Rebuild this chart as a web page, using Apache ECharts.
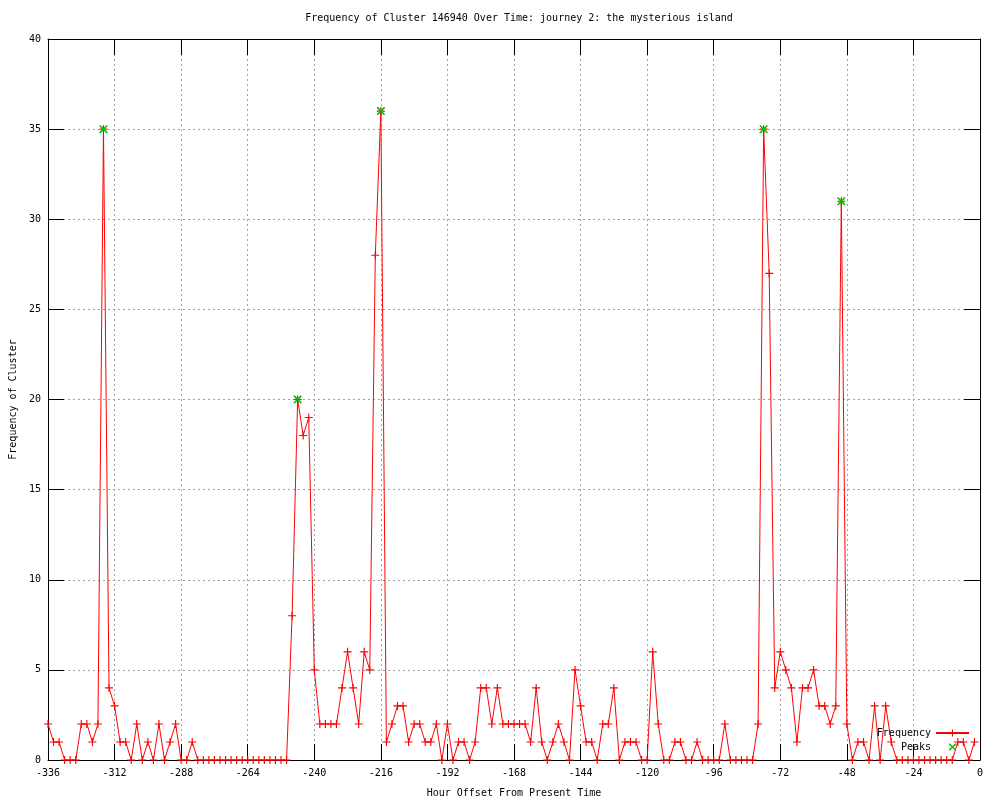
<!DOCTYPE html>
<html>
<head>
<meta charset="utf-8">
<script src="https://cdn.jsdelivr.net/npm/echarts@6/dist/echarts.min.js"></script>
<style>
html,body{margin:0;padding:0;background:#fff;}
#c{width:1000px;height:800px;}
</style>
</head>
<body>
<div id="c"></div>
<script>
var titleText = 'Frequency of Cluster 146940 Over Time: journey 2: the mysterious island';
var xAxisName = 'Hour Offset From Present Time';
var yAxisName = 'Frequency of Cluster';

var hours = [
-336,-334,-332,-330,-328,-326,-324,-322,-320,-318,-316,-314,-312,-310,-308,-306,-304,-302,-300,-298,
-296,-294,-292,-290,-288,-286,-284,-282,-280,-278,-276,-274,-272,-270,-268,-266,-264,-262,-260,-258,
-256,-254,-252,-250,-248,-246,-244,-242,-240,-238,-236,-234,-232,-230,-228,-226,-224,-222,-220,-218,
-216,-214,-212,-210,-208,-206,-204,-202,-200,-198,-196,-194,-192,-190,-188,-186,-184,-182,-180,-178,
-176,-174,-172,-170,-168,-166,-164,-162,-160,-158,-156,-154,-152,-150,-148,-146,-144,-142,-140,-138,
-136,-134,-132,-130,-128,-126,-124,-122,-120,-118,-116,-114,-112,-110,-108,-106,-104,-102,-100,-98,
-96,-94,-92,-90,-88,-86,-84,-82,-80,-78,-76,-74,-72,-70,-68,-66,-64,-62,-60,-58,
-56,-54,-52,-50,-48,-46,-44,-42,-40,-38,-36,-34,-32,-30,-28,-26,-24,-22,-20,-18,
-16,-14,-12,-10,-8,-6,-4,-2
];

var frequency = [
2,1,1,0,0,0,2,2,1,2,35,4,3,1,1,0,2,0,1,0,
2,0,1,2,0,0,1,0,0,0,0,0,0,0,0,0,0,0,0,0,
0,0,0,0,8,20,18,19,5,2,2,2,2,4,6,4,2,6,5,28,
36,1,2,3,3,1,2,2,1,1,2,0,2,0,1,1,0,1,4,4,
2,4,2,2,2,2,2,1,4,1,0,1,2,1,0,5,3,1,1,0,
2,2,4,0,1,1,1,0,0,6,2,0,0,1,1,0,0,1,0,0,
0,0,2,0,0,0,0,0,2,35,27,4,6,5,4,1,4,4,5,3,
3,2,3,31,2,0,1,1,0,3,0,3,1,0,0,0,0,0,0,0,
0,0,0,0,1,1,0,1
];

var peakHours = [-316, -246, -216, -78, -50];
var peakValues = [35, 20, 36, 35, 31];

var xTicks = {min: -336, max: 0, interval: 24};
var yTicks = {min: 0, max: 40, interval: 5};

var freqData = hours.map(function (h, i) { return [h, frequency[i]]; });
var peakData = peakHours.map(function (h, i) { return [h, peakValues[i]]; });

var FONT = 'DejaVu Sans Mono';
var plusPath = 'path://M0,3h7v1h-7z M3,0h1v7h-1z';
var xPath = 'path://M0,0 L1,0 L7,6 L7,7 L6,7 L0,1 Z M6,0 L7,0 L7,1 L1,7 L0,7 L0,6 Z';

var gridLine = {show: true, lineStyle: {color: '#a0a0a0', width: 1, type: [2, 3]}};

var chart = echarts.init(document.getElementById('c'), null, {renderer: 'canvas'});
chart.setOption({
  animation: false,
  backgroundColor: '#ffffff',
  title: {
    text: titleText,
    left: 514, top: 8, textAlign: 'center',
    textStyle: {fontFamily: FONT, fontSize: 10, fontWeight: 'normal', color: '#000'}
  },
  legend: {
    orient: 'vertical',
    align: 'right',
    right: 30, top: 728, padding: 0,
    itemWidth: 33, itemHeight: 9, itemGap: 4,
    textStyle: {fontFamily: FONT, fontSize: 10, color: '#000'},
    data: ['Frequency', 'Peaks']
  },
  grid: {left: 48, right: 20, top: 39, bottom: 40, show: false, containLabel: false, outerBoundsMode: 'none'},
  xAxis: [{
    type: 'value', position: 'bottom',
    min: xTicks.min, max: xTicks.max, interval: xTicks.interval,
    name: xAxisName, nameLocation: 'middle', nameGap: 28,
    nameTextStyle: {fontFamily: FONT, fontSize: 10, color: '#000'},
    axisLine: {show: true, onZero: false, lineStyle: {color: '#000', width: 1}},
    axisTick: {show: true, inside: true, length: 16, lineStyle: {color: '#000'}},
    axisLabel: {fontFamily: FONT, fontSize: 10, color: '#000', margin: 8},
    splitLine: gridLine
  }, {
    type: 'value', position: 'top',
    min: xTicks.min, max: xTicks.max, interval: xTicks.interval,
    axisLine: {show: true, onZero: false, lineStyle: {color: '#000', width: 1}},
    axisTick: {show: true, inside: true, length: 16, lineStyle: {color: '#000'}},
    axisLabel: {show: false},
    splitLine: {show: false}
  }],
  yAxis: [{
    type: 'value', position: 'left',
    min: yTicks.min, max: yTicks.max, interval: yTicks.interval,
    name: yAxisName, nameLocation: 'middle', nameGap: 30, nameRotate: 90,
    nameTextStyle: {fontFamily: FONT, fontSize: 10, color: '#000'},
    axisLine: {show: true, onZero: false, lineStyle: {color: '#000', width: 1}},
    axisTick: {show: true, inside: true, length: 16, lineStyle: {color: '#000'}},
    axisLabel: {fontFamily: FONT, fontSize: 10, color: '#000', margin: 7},
    splitLine: gridLine
  }, {
    type: 'value', position: 'right',
    min: yTicks.min, max: yTicks.max, interval: yTicks.interval,
    axisLine: {show: true, onZero: false, lineStyle: {color: '#000', width: 1}},
    axisTick: {show: true, inside: true, length: 16, lineStyle: {color: '#000'}},
    axisLabel: {show: false},
    splitLine: {show: false}
  }],
  series: [{
    name: 'Frequency',
    type: 'line',
    xAxisIndex: 0, yAxisIndex: 0,
    data: freqData,
    symbol: plusPath,
    symbolSize: 8,
    showAllSymbol: true,
    itemStyle: {color: '#ff0000'},
    lineStyle: {color: '#ff0000', width: 1},
    z: 2
  }, {
    name: 'Peaks',
    type: 'line',
    xAxisIndex: 0, yAxisIndex: 0,
    data: peakData,
    symbol: xPath,
    symbolSize: 8,
    itemStyle: {color: '#00c000'},
    lineStyle: {opacity: 0, width: 0},
    z: 3
  }]
});
</script>
</body>
</html>
